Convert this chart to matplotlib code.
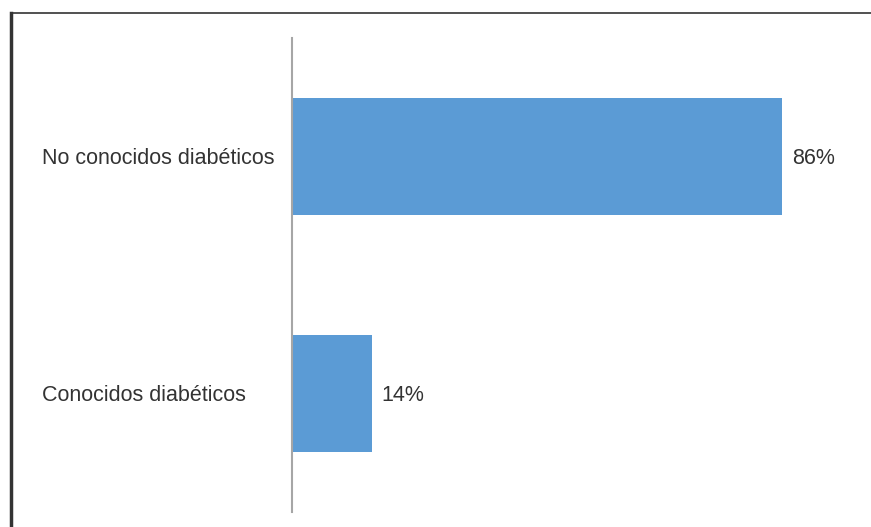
import matplotlib.pyplot as plt
from matplotlib.lines import Line2D
from matplotlib.transforms import blended_transform_factory

plt.rcParams['font.family'] = ['Liberation Sans', 'DejaVu Sans']

# data
categories = ['Conocidos diabéticos', 'No conocidos diabéticos']
percentages = [14, 86]

W, H = 871, 527
fig = plt.figure(figsize=(W / 100, H / 100), dpi=100)

# axes placed in pixel terms: x 292..862, y 38..512 (from top)
ax = fig.add_axes([292 / W, 1 - 512 / H, 570 / W, 474 / H])

bars = ax.barh(range(len(categories)), percentages, height=0.49, color='#5B9BD5')
ax.set_xlim(0, 100)
ax.set_ylim(-0.5, 1.5)

ax.set_yticks([])
ax.set_xticks([])

for s in ['top', 'right', 'bottom']:
    ax.spines[s].set_visible(False)
ax.spines['left'].set_color('#A6A6A6')
ax.spines['left'].set_linewidth(1.5)

# category labels left-aligned near the frame edge
trans = blended_transform_factory(fig.transFigure, ax.transData)
for i, cat in enumerate(categories):
    ax.text(42 / W, i - 0.01, cat, transform=trans, ha='left', va='center',
            fontsize=15.5, color='#333333')

for bar, p in zip(bars, percentages):
    ax.text(bar.get_width() + 1.7, bar.get_y() + bar.get_height() / 2 - 0.01, f'{p}%',
            va='center', ha='left', fontsize=15.5, color='#333333')

# outer frame: top and left border lines only
fig.add_artist(Line2D([11 / W, 1], [1 - 13 / H, 1 - 13 / H], color='#333333',
                      linewidth=1.2, transform=fig.transFigure))
fig.add_artist(Line2D([11 / W, 11 / W], [0, 1 - 13 / H], color='#333333',
                      linewidth=2.5, transform=fig.transFigure))

plt.savefig('out.png', dpi=100)
